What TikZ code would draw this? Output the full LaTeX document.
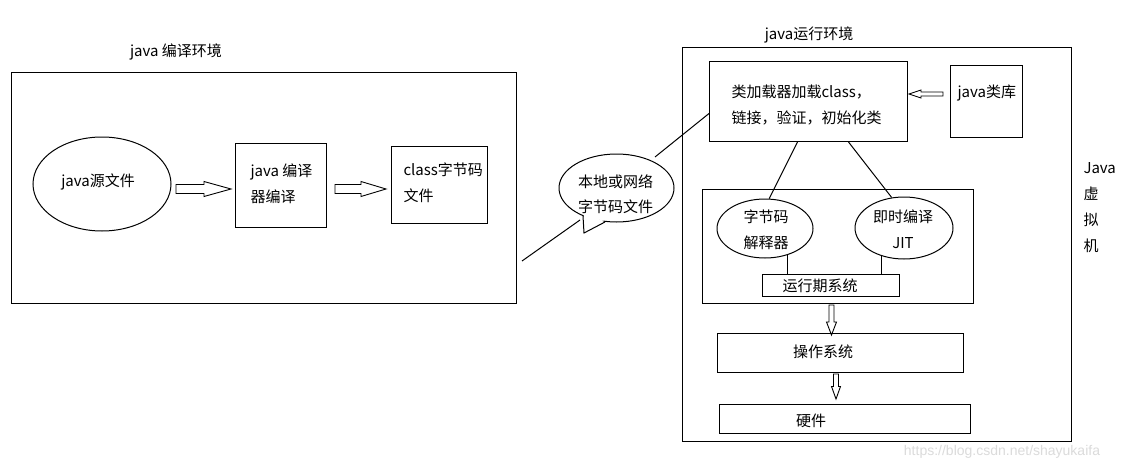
\documentclass[tikz,border=0pt]{standalone}
\usepackage{fontspec}
\setmainfont{Noto Sans CJK SC}
\newfontfamily\wmfont{Liberation Sans}
\usetikzlibrary{shapes.geometric,calc}
\newcommand\blockH[5]{\draw[blk] let \p1=(#1),\p2=(#2) in
 (\x1,{\y1+#4}) -- ({\x2-(#3)},{\y1+#4}) -- ({\x2-(#3)},{\y1+#5}) -- (\x2,\y1) -- ({\x2-(#3)},{\y1-#5}) -- ({\x2-(#3)},{\y1-#4}) -- (\x1,{\y1-#4}) -- cycle;}
\newcommand\blockV[5]{\draw[blk] let \p1=(#1),\p2=(#2) in
 ({\x1+#4},\y1) -- ({\x1+#4},{\y2-(#3)}) -- ({\x1+#5},{\y2-(#3)}) -- (\x1,\y2) -- ({\x1-#5},{\y2-(#3)}) -- ({\x1-#4},{\y2-(#3)}) -- ({\x1-#4},\y1) -- cycle;}
\begin{document}
\begin{tikzpicture}[x=1pt,y=-1pt,line width=1pt,
 box/.style={draw, inner sep=0pt, anchor=north west},
 oval/.style={draw, ellipse, inner sep=0pt},
 txt/.style={inner sep=0pt, font=\fontsize{15}{26}\selectfont},
 blk/.style={draw, fill=white, line width=0.9pt, line join=miter},
 ]
\useasboundingbox[fill=white] (0,0) rectangle (1123,468);

% ---------- compile environment ----------
\node[txt] (titleL) at (176,52) {java 编译环境};
\node[box, minimum width=505pt, minimum height=231pt] (envL) at (11,72) {};
\node[oval, minimum width=138pt, minimum height=94pt] (src) at (102,184) {};
\node[txt] (srcT) at (98,182) {java源文件};
\node[box, minimum width=91pt, minimum height=84pt] (comp) at (235,143) {};
\node[txt, anchor=west, align=left] (compT) at (250,184) {java 编译\\器编译};
\node[box, minimum width=96pt, minimum height=77pt] (cls) at (391,146) {};
\node[txt, anchor=west, align=left] (clsT) at (403,183) {class字节码\\文件};

\coordinate (a1s) at (176,189); \coordinate (a1e) at (231,189);
\blockH{a1s}{a1e}{27pt}{4.5pt}{7.5pt}
\coordinate (a2s) at (335,189); \coordinate (a2e) at (386,189);
\blockH{a2s}{a2e}{25pt}{4.5pt}{7.5pt}

% ---------- bubble ----------
\node[oval, minimum width=115pt, minimum height=68pt] (bub) at (616.5,188) {};
\coordinate (tl) at (583,216); \coordinate (tt) at (584,233); \coordinate (tr) at (605,222);
\fill[white] ($(tl)+(0.8,-1.2)$) -- (tt) -- ($(tr)+(-0.8,-1.2)$) -- cycle;
\draw (tl) -- (tt) -- (tr);
\node[txt, align=center, font=\fontsize{15}{25}\selectfont] (bubT) at (615.5,194.5) {本地或网络\\字节码文件};
\coordinate (lk) at (522,261); \coordinate (lkEnd) at (580,220);
\draw (lk) -- (lkEnd);

% ---------- runtime environment ----------
\node[txt] (titleR) at (809,35) {java运行环境};
\node[box, minimum width=389pt, minimum height=394pt] (envR) at (682,47) {};
\node[box, minimum width=198pt, minimum height=80pt] (loader) at (709,61) {};
\node[txt, anchor=west, align=left] (loaderT) at (731,105) {类加载器加载class，\\链接，验证，初始化类};
\coordinate (bubLink) at (655,157);
\draw (bubLink) -- ($(loader.west)+(0,12)$);
\node[box, minimum width=72pt, minimum height=72pt] (lib) at (950,65) {};
\node[txt, anchor=west] (libT) at (957,93) {java类库};
\coordinate (la1) at (943,94); \coordinate (la2) at (909,94);
\blockH{la1}{la2}{-12pt}{2pt}{4pt}

\node[box, minimum width=271pt, minimum height=114pt] (rt) at (702,189) {};
\node[oval, minimum width=96pt, minimum height=59pt] (interp) at (765,228.5) {};
\node[txt, align=center] (interpT) at (766,229.5) {字节码\\解释器};
\node[oval, minimum width=98pt, minimum height=62pt] (jit) at (904,228) {};
\node[txt, align=center] (jitT) at (903,229.5) {即时编译\\JIT};
\node[box, minimum width=137pt, minimum height=22pt] (sys) at (762,274) {};
\node[txt] (sysT) at (820,286) {运行期系统};
\draw ($(loader.south)+(-11,0)$) -- (interp.82);
\draw ($(loader.south)+(40,0)$) -- (jit.112);
\draw (interp.311) -- (interp.311 |- sys.north);
\draw (jit.231) -- (jit.231 |- sys.north);

\coordinate (d1s) at (831.5,305); \coordinate (d1e) at (831.5,335);
\blockV{d1s}{d1e}{-13pt}{2.5pt}{5pt}
\node[box, minimum width=246pt, minimum height=39pt] (os) at (717,333) {};
\node[txt] (osT) at (823,352) {操作系统};
\coordinate (d2s) at (836,374); \coordinate (d2e) at (836,399);
\blockV{d2s}{d2e}{-12.5pt}{2.5pt}{4.5pt}
\node[box, minimum width=251pt, minimum height=29pt] (hw) at (719,404) {};
\node[txt] (hwT) at (811,421) {硬件};

\node[txt, anchor=west, align=left] (jvm) at (1083,208) {Java\\虚\\拟\\机};

\node[inner sep=0pt, text=gray!28, font=\wmfont\fontsize{14}{14}\selectfont] (wm) at (1002,452) {https://blog.csdn.net/shayukaifa};
\end{tikzpicture}
\end{document}
